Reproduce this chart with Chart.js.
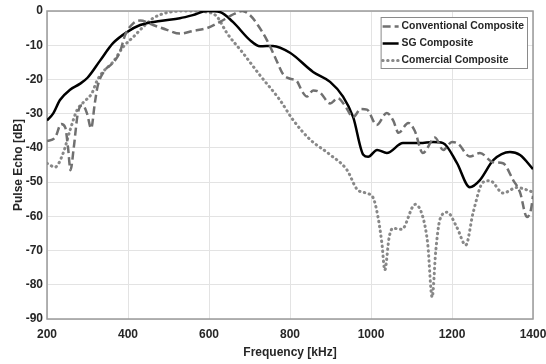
<!DOCTYPE html>
<html><head><meta charset="utf-8">
<script src="https://cdn.jsdelivr.net/npm/chart.js@4/dist/chart.umd.min.js"></script>
<style>html,body{margin:0;padding:0;background:#fff}#wrap{width:546px;height:364px}</style>
</head><body><div id="wrap"><canvas id="c" width="546" height="364"></canvas></div>
<script>
const xTicks = [200, 400, 600, 800, 1000, 1200, 1400];
const yTicks = [0, -10, -20, -30, -40, -50, -60, -70, -80, -90];

const convFreq = [200,220,235,245,252,258,266,276,288,299,309,318,325,343,360,380,393,413,430,462,496,528,561,595,627,655,682,701,720,743,765,783,800,817,830,842,857,874,899,918,935,956,975,990,1014,1039,1055,1068,1092,1108,1128,1158,1178,1200,1215,1244,1269,1302,1326,1351,1368,1385,1395,1400];
const convDb   = [-38,-37,-33,-34,-40,-46.5,-40,-30,-27.5,-30,-34.3,-27,-22,-17.3,-15.5,-12,-7,-3.6,-2.8,-4.1,-5.5,-6.6,-5.8,-5,-3.2,-1.3,0,-1.2,-4,-8.5,-14,-18.5,-19.8,-20.5,-23.5,-25,-23.2,-23.8,-27,-25.5,-27.5,-31,-28.6,-28.8,-33.3,-29.8,-32,-35.6,-32.7,-35,-41.5,-37,-40.6,-38.3,-38.8,-42.5,-41.5,-44.2,-44.5,-49.4,-53,-60.2,-58,-54];

const sgFreq = [200,215,232,257,281,300,331,363,397,430,479,528,560,595,627,659,701,726,758,800,857,899,931,956,981,993,1015,1039,1079,1121,1153,1178,1212,1244,1269,1302,1343,1368,1400];
const sgDb   = [-32,-30,-26,-23,-21.3,-19.5,-14.5,-9.4,-6.2,-4.1,-2.9,-2.1,-1.2,0,-0.3,-3.2,-8.5,-10.3,-10.2,-12.2,-17.8,-20.7,-25,-31,-42,-42.6,-40.6,-41.5,-38.6,-38.6,-38.3,-38.6,-44.4,-51.5,-49.4,-43.6,-41.2,-42.1,-46.2];

const comFreq = [200,220,240,257,274,289,311,323,338,363,388,413,437,462,496,546,595,620,644,684,726,775,808,849,899,941,965,990,1005,1017,1027,1034,1045,1054,1076,1109,1128,1140,1151,1160,1170,1188,1212,1234,1252,1277,1294,1326,1360,1400];
const comDb   = [-44.5,-45.6,-41.5,-34.8,-29,-26.8,-24,-20.5,-17.8,-14.9,-10.5,-7.6,-4.7,-2.1,-0.5,0,-0.3,-1.7,-6.4,-12.3,-18.8,-26,-31.9,-37.5,-42,-46.5,-52,-53.3,-54.5,-60,-68,-75.7,-66,-63.5,-63.8,-56.5,-60.2,-68,-83.6,-70,-61,-58.8,-63.2,-68.4,-59,-50,-49.6,-53.2,-51.6,-52.9];

const seriesNames = ['Conventional Composite', 'SG Composite', 'Comercial Composite'];

const pts = (xs, ys) => xs.map((x, i) => ({x: x, y: ys[i]}));
const FONT = '"Liberation Sans", Arial, sans-serif';

const frameLegend = {
  id: 'frameLegend',
  beforeDatasetsDraw(chart) {
    const a = chart.chartArea, ctx = chart.ctx;
    ctx.save();
    ctx.strokeStyle = '#9a9a9a';
    ctx.lineWidth = 1.5;
    ctx.strokeRect(a.left, a.top, a.right - a.left, a.bottom - a.top);
    ctx.restore();
  },
  afterDraw(chart) {
    const a = chart.chartArea, ctx = chart.ctx;
    ctx.save();
    ctx.font = 'bold 10.4px ' + FONT;
    const ds = chart.data.datasets;
    let tw = 0;
    ds.forEach(d => { tw = Math.max(tw, ctx.measureText(d.label).width); });
    const sample = 17, gap = 3, pad = 1, rowH = 17;
    const w = pad + sample + gap + tw + 3;
    const h = rowH * ds.length;
    const x0 = a.right - 6 - w, y0 = a.top + 6;
    ctx.fillStyle = '#fff';
    ctx.fillRect(x0, y0, w, h);
    ctx.strokeStyle = '#8a8a8a';
    ctx.lineWidth = 1;
    ctx.strokeRect(x0 + 0.5, y0 + 0.5, w, h);
    ds.forEach((d, i) => {
      const cy = y0 + 9.5 + i * rowH;
      ctx.beginPath();
      ctx.strokeStyle = d.borderColor;
      ctx.lineWidth = d.borderWidth;
      ctx.lineCap = d.borderCapStyle || 'butt';
      ctx.setLineDash(d.borderDash || []);
      ctx.moveTo(x0 + pad + 1, cy);
      ctx.lineTo(x0 + pad + sample, cy);
      ctx.stroke();
      ctx.setLineDash([]);
      ctx.fillStyle = '#262626';
      ctx.textBaseline = 'middle';
      ctx.fillText(d.label, x0 + pad + sample + gap, cy);
    });
    ctx.restore();
  }
};

new Chart(document.getElementById('c'), {
  type: 'line',
  data: {
    datasets: [
      {label: seriesNames[0], data: pts(convFreq, convDb), borderColor: '#707070', borderWidth: 2.5, borderDash: [8, 4], pointRadius: 0, cubicInterpolationMode: 'monotone', fill: false},
      {label: seriesNames[1], data: pts(sgFreq, sgDb), borderColor: '#000000', borderWidth: 2.5, pointRadius: 0, cubicInterpolationMode: 'monotone', fill: false},
      {label: seriesNames[2], data: pts(comFreq, comDb), borderColor: '#888888', borderWidth: 3, borderDash: [0.5, 4.5], borderCapStyle: 'round', pointRadius: 0, cubicInterpolationMode: 'monotone', fill: false}
    ]
  },
  options: {
    responsive: false,
    animation: false,
    devicePixelRatio: 1,
    layout: {padding: {top: 11, right: 13, left: 0, bottom: 0}},
    plugins: {legend: {display: false}, tooltip: {enabled: false}},
    scales: {
      x: {
        type: 'linear', min: 200, max: 1400,
        afterBuildTicks: s => { s.ticks = xTicks.map(v => ({value: v})); },
        afterFit: s => { s.height = 45; s.paddingLeft = 0; s.paddingRight = 0; },
        grid: {color: '#e3e3e3', lineWidth: 1, drawTicks: false},
        border: {display: false},
        ticks: {padding: 8, color: '#262626', font: {family: FONT, size: 12, weight: 'bold'}, maxRotation: 0, callback: v => String(v)},
        title: {display: true, text: 'Frequency [kHz]', color: '#262626', font: {family: FONT, size: 12, weight: 'bold'}, padding: {top: 0, bottom: 4}}
      },
      y: {
        type: 'linear', min: -90, max: 0,
        afterBuildTicks: s => { s.ticks = yTicks.map(v => ({value: v})); },
        afterFit: s => { s.width = 47; s.paddingTop = 0; s.paddingBottom = 0; },
        grid: {color: '#e3e3e3', lineWidth: 1, drawTicks: false},
        border: {display: false},
        ticks: {padding: 4, color: '#262626', font: {family: FONT, size: 12, weight: 'bold'}, callback: v => String(v)},
        title: {display: true, text: 'Pulse Echo [dB]', color: '#262626', font: {family: FONT, size: 12, weight: 'bold'}, padding: {top: 11, bottom: 0}}
      }
    }
  },
  plugins: [frameLegend]
});
</script></body></html>
